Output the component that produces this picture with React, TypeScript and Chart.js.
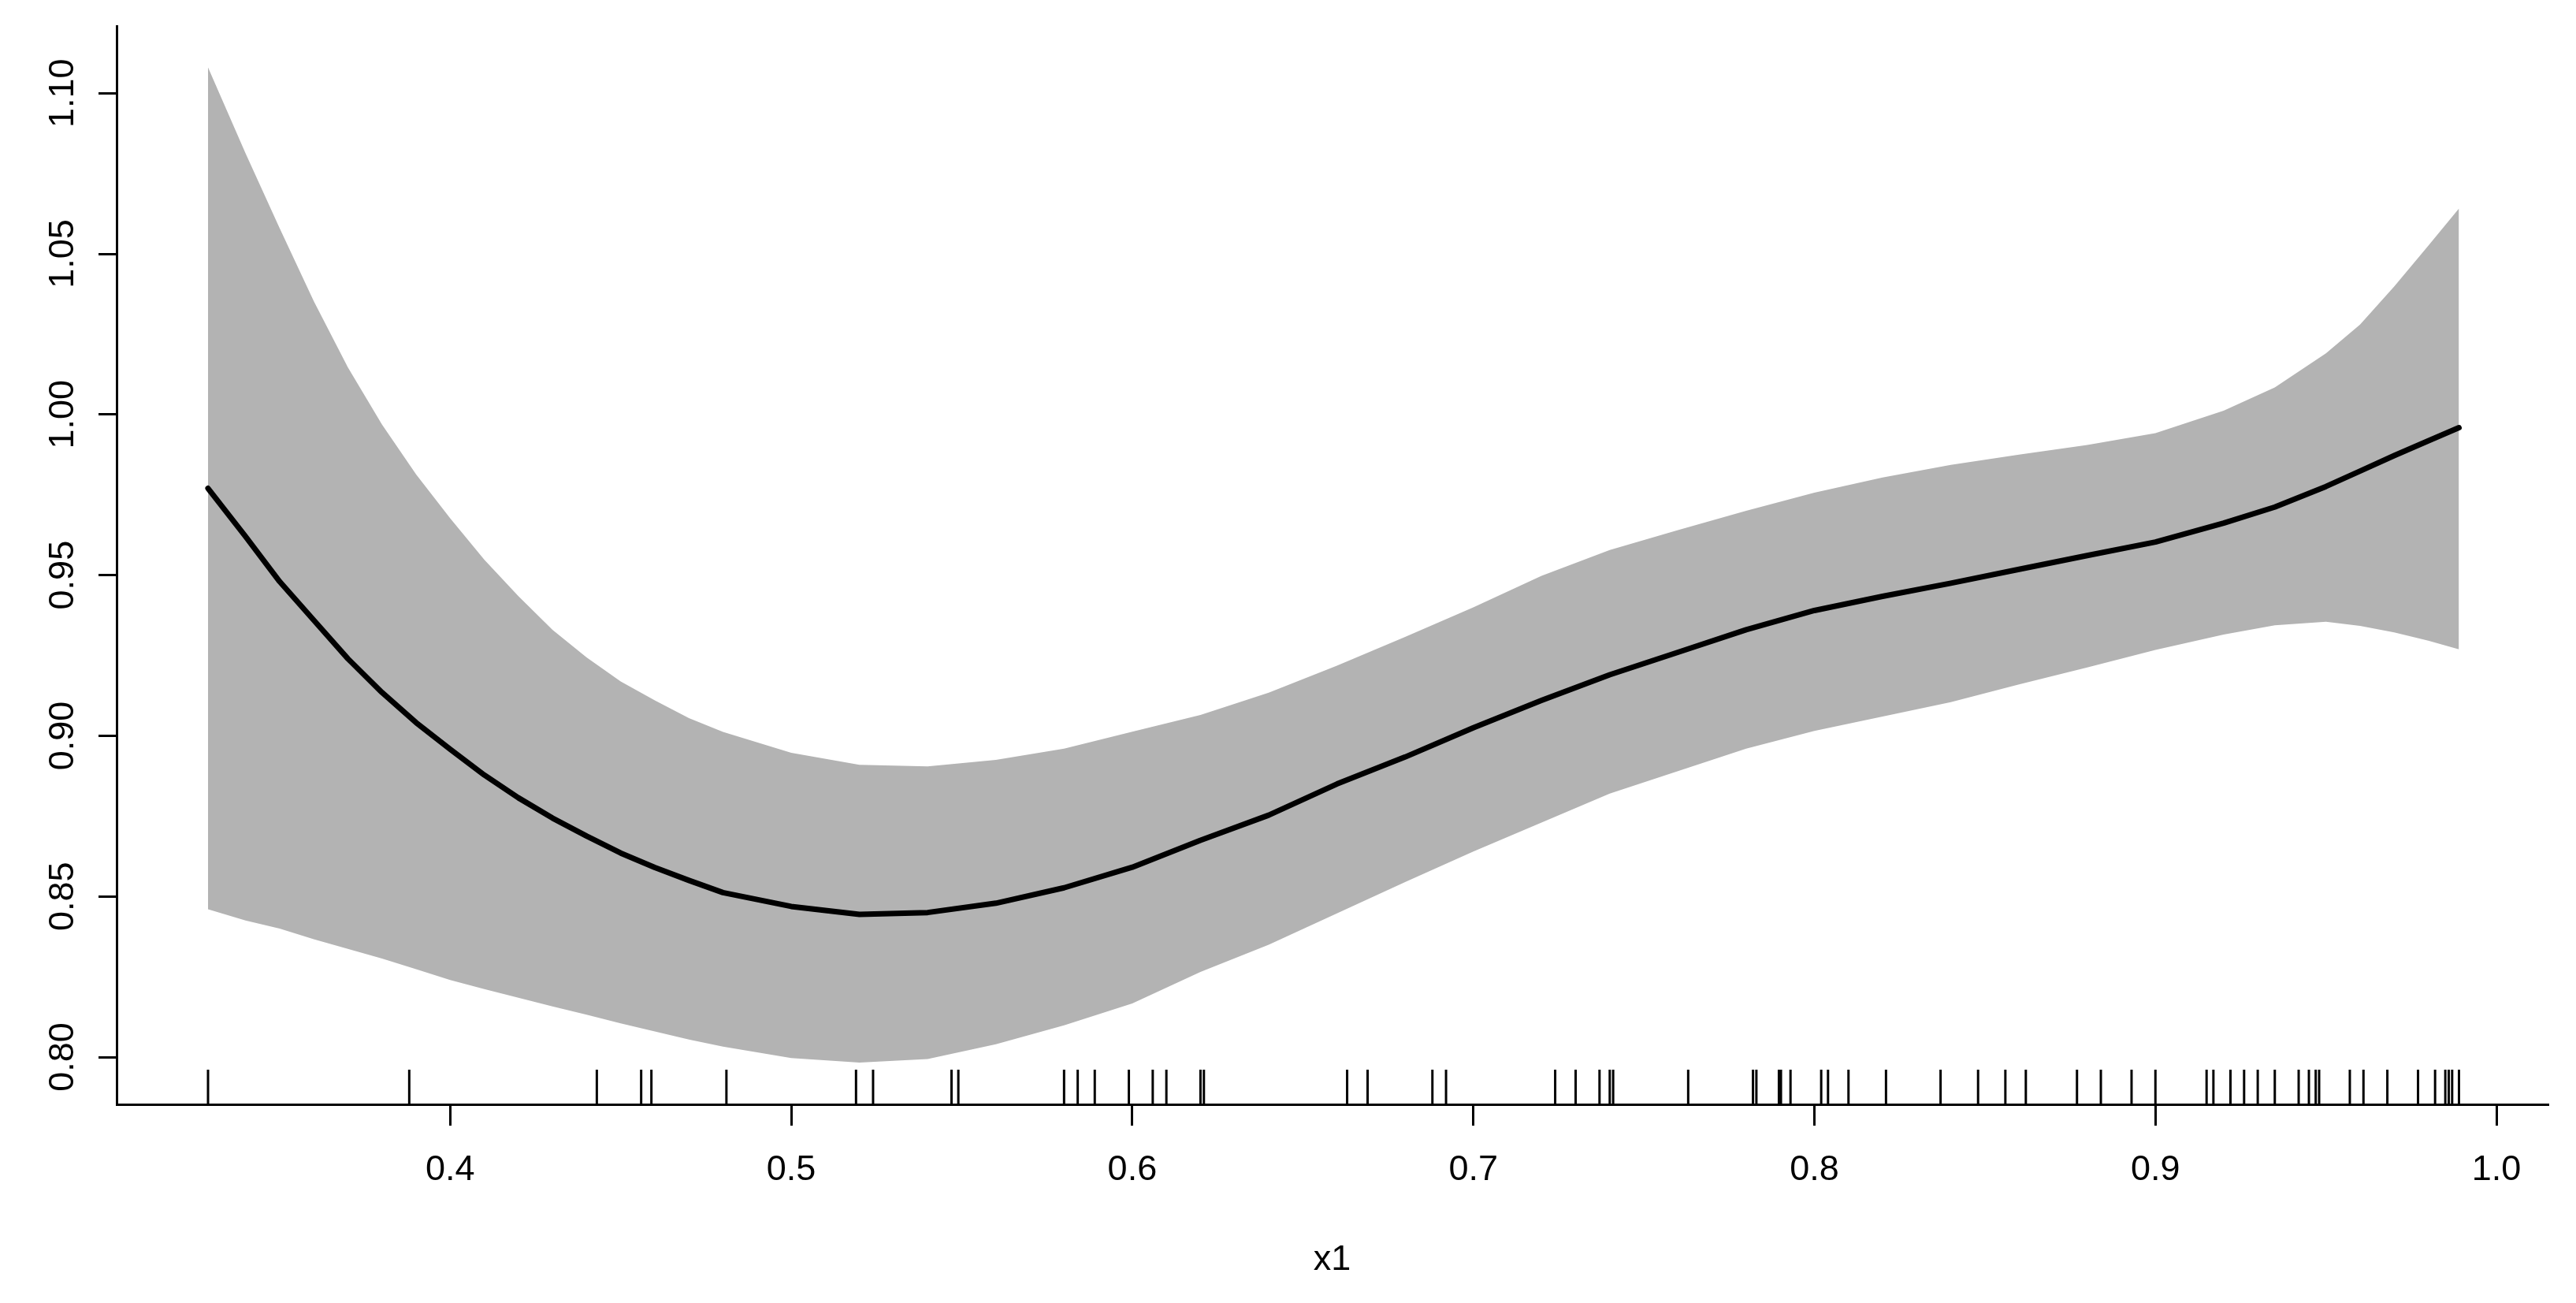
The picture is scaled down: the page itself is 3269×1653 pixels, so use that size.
import React, { useEffect, useRef } from "react";
import { Chart, registerables } from "chart.js";

Chart.register(...registerables);

// ---- data ----
const X_GRID = [
  0.329, 0.34, 0.35, 0.36, 0.37, 0.38, 0.39, 0.40, 0.41, 0.42, 0.43, 0.44, 0.45, 0.46, 0.47, 0.48, 0.50,
  0.52, 0.54, 0.56, 0.58, 0.60, 0.62, 0.64, 0.66, 0.68, 0.70, 0.72, 0.74, 0.76,
  0.78, 0.80, 0.82, 0.84, 0.86, 0.88, 0.90, 0.92, 0.935, 0.95, 0.96, 0.97, 0.98, 0.989,
];
const FIT = [
  0.977, 0.962, 0.948, 0.936, 0.924, 0.9135, 0.9041, 0.8958, 0.8878, 0.8807, 0.8744, 0.8688, 0.8635, 0.859, 0.855, 0.8512, 0.8469,
  0.8444, 0.845, 0.8479, 0.8527, 0.8591, 0.8675, 0.8753, 0.885, 0.8934, 0.9025, 0.911, 0.919, 0.926,
  0.933, 0.939, 0.9434, 0.9475, 0.9518, 0.9561, 0.9603, 0.9662, 0.9712, 0.9776, 0.9824, 0.9872, 0.9918, 0.9959,
];
const UPPER = [
  1.108, 1.0813, 1.058, 1.0353, 1.0147, 0.9969, 0.9814, 0.9677, 0.9548, 0.9435, 0.933, 0.9244, 0.9169, 0.911, 0.9055, 0.9012, 0.8947,
  0.891, 0.8905, 0.8925, 0.896, 0.9013, 0.9065, 0.9134, 0.9218, 0.9308, 0.94, 0.9498, 0.9578, 0.964,
  0.97, 0.9757, 0.9804, 0.9843, 0.9875, 0.9905, 0.9942, 1.0012, 1.0084, 1.019, 1.028, 1.0398, 1.0525, 1.0641,
];
const LOWER = [
  0.846, 0.8425, 0.84, 0.8367, 0.8337, 0.8307, 0.8274, 0.824, 0.8212, 0.8185, 0.8158, 0.8132, 0.8105, 0.808, 0.8055, 0.8033, 0.7997,
  0.7983, 0.7994, 0.804, 0.8099, 0.8167, 0.8265, 0.835, 0.8447, 0.8545, 0.864, 0.873, 0.882, 0.889,
  0.896, 0.9015, 0.906, 0.9105, 0.916, 0.9213, 0.9267, 0.9315, 0.9344, 0.9355, 0.9342, 0.9322, 0.9296, 0.9269,
];
const RUG_X = [
  0.329, 0.388, 0.443, 0.456, 0.459, 0.481, 0.519, 0.524, 0.547, 0.549, 0.580, 0.584, 0.589,
  0.599, 0.606, 0.610, 0.620, 0.621, 0.663, 0.669, 0.688, 0.692, 0.724, 0.730, 0.737, 0.740,
  0.741, 0.763, 0.782, 0.783, 0.7896, 0.7902, 0.793, 0.802, 0.804, 0.810, 0.821, 0.837, 0.848,
  0.856, 0.862, 0.877, 0.884, 0.893, 0.900, 0.915, 0.917, 0.922, 0.926, 0.930, 0.935, 0.942,
  0.945, 0.947, 0.948, 0.957, 0.961, 0.968, 0.977, 0.982, 0.985, 0.986, 0.987, 0.989,
];
const X_TICKS = [0.4, 0.5, 0.6, 0.7, 0.8, 0.9, 1.0];
const Y_TICKS = [0.8, 0.85, 0.9, 0.95, 1.0, 1.05, 1.1];
const X_LABEL = "x1";

// ---- axis ranges ----
const X_MIN = 0.3022;
const X_MAX = 1.015;
const Y_MIN = 0.7853;
const Y_MAX = 1.1209;

const W = 3269;
const H = 1653;
const AREA_LEFT = 148;
const AREA_RIGHT = 3233;
const AREA_TOP = 33;
const AREA_BOTTOM = 1401;

const FONT = '"Liberation Sans", Arial, Helvetica, sans-serif';
const FONT_NARROW = '"Liberation Sans Narrow", "Arial Narrow", "Liberation Sans", Arial, sans-serif';

export default function App() {
  const ref = useRef<HTMLCanvasElement | null>(null);

  useEffect(() => {
    const canvas = ref.current;
    if (!canvas) return;
    const pts = (ys: number[]) => X_GRID.map((x, i) => ({ x, y: ys[i] }));
    const rugY = Y_MIN + 0.0161 * (Y_MAX - Y_MIN);

    const chart = new Chart(canvas, {
      type: "line",
      data: {
        datasets: [
          {
            label: "fit",
            data: pts(FIT),
            borderColor: "#000000",
            borderWidth: 7,
            pointRadius: 0,
            fill: false,
            tension: 0,
            borderJoinStyle: "round",
            borderCapStyle: "round",
          },
          {
            type: "scatter",
            label: "rug",
            data: RUG_X.map((x) => ({ x, y: rugY })),
            pointStyle: "line",
            pointRadius: 22,
            pointRotation: 90,
            pointBorderWidth: 3,
            pointBorderColor: "#000000",
            pointBackgroundColor: "#000000",
            showLine: false,
            clip: false,
          } as any,
          {
            label: "upper",
            data: pts(UPPER),
            borderWidth: 0,
            borderColor: "rgba(0,0,0,0)",
            pointRadius: 0,
            fill: "+1",
            backgroundColor: "#B3B3B3",
            tension: 0,
          },
          {
            label: "lower",
            data: pts(LOWER),
            borderWidth: 0,
            borderColor: "rgba(0,0,0,0)",
            pointRadius: 0,
            fill: false,
            tension: 0,
          },
        ],
      },
      options: {
        responsive: false,
        devicePixelRatio: 1,
        animation: false,
        events: [],
        layout: {
          padding: { left: 0, right: W - AREA_RIGHT, top: AREA_TOP, bottom: 0 },
        },
        plugins: {
          legend: { display: false },
          tooltip: { enabled: false },
        },
        scales: {
          x: {
            type: "linear",
            position: "bottom",
            min: X_MIN,
            max: X_MAX,
            afterBuildTicks: (s: any) => {
              s.ticks = X_TICKS.map((v) => ({ value: v }));
            },
            afterFit: (s: any) => {
              s.height = H - AREA_BOTTOM;
            },
            ticks: {
              autoSkip: false,
              minRotation: 0,
              maxRotation: 0,
              padding: 30,
              color: "#000000",
              font: { family: FONT_NARROW, size: 45 },
              callback: (v: any) => Number(v).toFixed(1),
            },
            grid: {
              drawOnChartArea: false,
              drawTicks: true,
              tickLength: 27,
              tickWidth: 3,
              tickColor: "#000000",
              color: "#000000",
              lineWidth: 3,
            },
            border: { display: true, color: "#000000", width: 3 },
            title: {
              display: true,
              text: X_LABEL,
              color: "#000000",
              font: { family: FONT_NARROW, size: 45 },
              padding: { top: 0, bottom: 27 },
            },
          },
          y: {
            type: "linear",
            min: Y_MIN,
            max: Y_MAX,
            afterBuildTicks: (s: any) => {
              s.ticks = Y_TICKS.map((v) => ({ value: v }));
            },
            afterFit: (s: any) => {
              s.width = AREA_LEFT;
            },
            ticks: {
              autoSkip: false,
              minRotation: 90,
              maxRotation: 90,
              crossAlign: "center",
              padding: 1,
              color: "#000000",
              font: { family: FONT, size: 45 },
              callback: (v: any) => Number(v).toFixed(2),
            },
            grid: {
              drawOnChartArea: false,
              drawTicks: true,
              tickLength: 23,
              tickWidth: 3,
              tickColor: "#000000",
              color: "#000000",
              lineWidth: 3,
            },
            border: { display: true, color: "#000000", width: 3 },
          },
        },
      } as any,
    });

    return () => chart.destroy();
  }, []);

  return (
    <div
      style={{
        position: "fixed",
        left: 0,
        top: 0,
        width: W,
        height: H,
        background: "#ffffff",
      }}
    >
      <canvas ref={ref} width={W} height={H} style={{ display: "block", width: W, height: H }} />
    </div>
  );
}
